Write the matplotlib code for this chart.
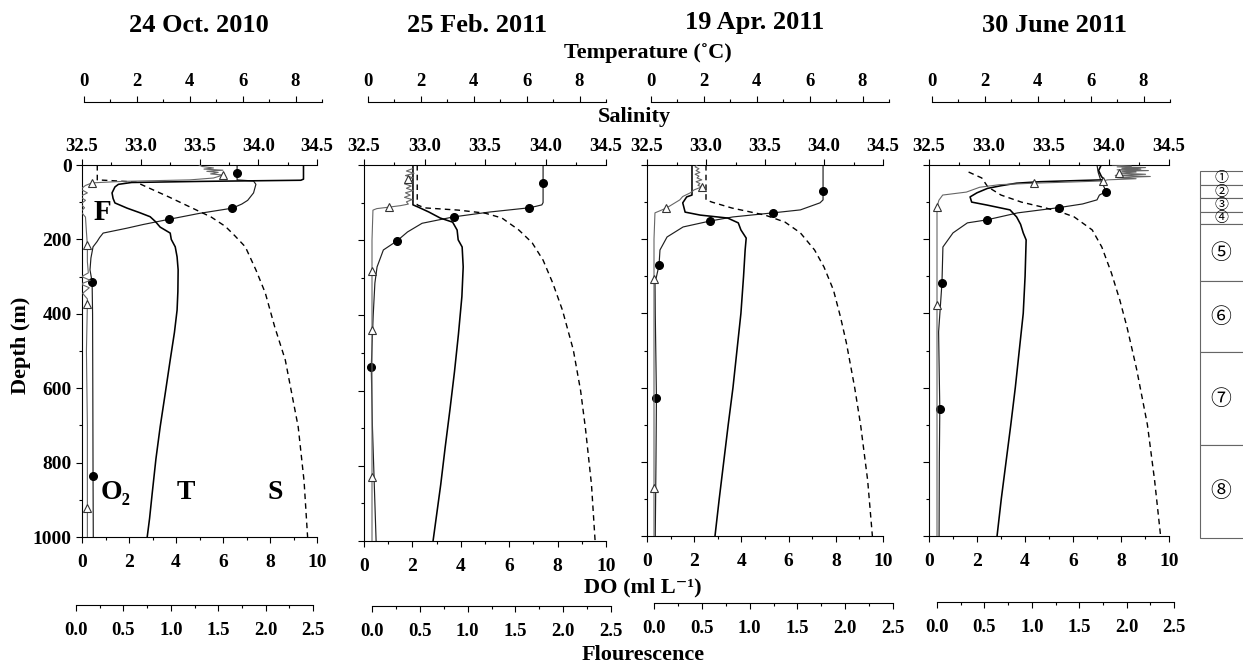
import matplotlib
matplotlib.use("Agg")
import matplotlib.pyplot as plt
from matplotlib.ticker import MultipleLocator, FormatStrFormatter

plt.rcParams['font.family'] = ['Liberation Serif', 'DejaVu Serif']
plt.rcParams['font.weight'] = 'bold'

# ---------------- data ----------------
titles = ['24 Oct. 2010', '25 Feb. 2011', '19 Apr. 2011', '30 June 2011']

# 24 Oct. 2010
oct10_t_z = [0, 38, 41, 44, 47, 52, 59, 75, 90, 102, 116, 128, 139, 152, 167, 183, 200, 220, 247, 282,
             340, 390, 450, 524, 610, 704, 790, 882, 950, 1000]
oct10_t = [8.3, 8.3, 8.2, 4.5, 1.8, 1.3, 1.17, 1.06, 1.1, 1.17, 1.63, 2.1, 2.5, 2.7, 2.88, 3.26, 3.3, 3.45,
           3.52, 3.56, 3.55, 3.52, 3.42, 3.26, 3.08, 2.88, 2.72, 2.58, 2.48, 2.39]
oct10_s_z = [0, 40, 42, 46, 59, 86, 116, 140, 165, 190, 220, 282, 344, 435, 524, 704, 850, 1000]
oct10_s = [32.63, 32.63, 32.75, 32.96, 33.05, 33.24, 33.44, 33.6, 33.72, 33.8, 33.89, 33.98, 34.06, 34.14,
           34.23, 34.34, 34.39, 34.42]
oct10_do_z = [0, 40, 43, 52, 75, 95, 105, 116, 130, 146, 160, 170, 183, 195, 206, 220, 250, 282, 314, 400,
              600, 836, 1000]
oct10_do = [6.6, 6.6, 7.3, 7.4, 7.3, 7.05, 6.8, 6.4, 5.0, 3.7, 2.6, 1.9, 0.9, 0.75, 0.64, 0.47, 0.38, 0.34,
            0.43, 0.45, 0.46, 0.47, 0.48]
oct10_do_pt_z = [21, 116, 146, 314, 836]
oct10_do_pt = [6.6, 6.4, 3.7, 0.43, 0.47]
oct10_f_z = [0, 4, 8, 11, 14, 17, 20, 24, 27, 31, 35, 40, 44, 48, 55, 65, 75, 85, 95, 105, 115, 125, 140,
             180, 215, 260, 290, 300, 310, 320, 330, 345, 360, 374, 500, 700, 922, 1000]
oct10_f = [1.3, 1.33, 1.45, 1.35, 1.55, 1.38, 1.5, 1.42, 1.55, 1.5, 1.45, 1.2, 0.5, 0.17, 0.1, 0.05, 0.12,
           0.04, 0.1, 0.05, 0.09, 0.05, 0.1, 0.11, 0.12, 0.12, 0.13, 0.06, 0.15, 0.05, 0.14, 0.07, 0.12,
           0.12, 0.11, 0.12, 0.12, 0.12]
oct10_f_pt_z = [27, 48, 215, 374, 922]
oct10_f_pt = [1.55, 0.17, 0.12, 0.12, 0.12]

# 25 Feb. 2011
feb11_t_z = [0, 106, 112, 125, 141, 152, 173, 199, 218, 271, 350, 450, 550, 650, 750, 850, 1000]
feb11_t = [1.7, 1.7, 1.9, 2.3, 2.73, 3.2, 3.37, 3.41, 3.56, 3.6, 3.55, 3.42, 3.27, 3.1, 2.92, 2.75, 2.46]
feb11_s_z = [0, 106, 114, 120, 128, 141, 173, 207, 253, 314, 386, 492, 600, 700, 850, 1000]
feb11_s = [32.94, 32.94, 33.0, 33.28, 33.5, 33.64, 33.78, 33.89, 33.98, 34.06, 34.14, 34.23, 34.29, 34.33,
           34.38, 34.41]
feb11_do_z = [0, 48, 100, 106, 110, 114, 125, 138, 155, 178, 202, 226, 271, 314, 400, 537, 700, 900, 1000]
feb11_do = [7.4, 7.4, 7.4, 7.35, 7.1, 6.8, 5.2, 3.7, 2.4, 1.8, 1.36, 0.8, 0.54, 0.45, 0.38, 0.3, 0.35,
            0.45, 0.5]
feb11_do_pt_z = [48, 114, 138, 202, 537]
feb11_do_pt = [7.4, 6.8, 3.7, 1.36, 0.3]
feb11_f_z = [10, 16, 22, 28, 34, 37, 44, 50, 56, 62, 68, 74, 80, 86, 92, 98, 104, 108, 112, 116, 120, 200,
             282, 439, 600, 830, 1000]
feb11_f = [0.42, 0.36, 0.44, 0.35, 0.43, 0.38, 0.42, 0.34, 0.41, 0.36, 0.43, 0.35, 0.4, 0.34, 0.42, 0.36,
           0.38, 0.3, 0.18, 0.05, 0.01, 0.0, 0.0, 0.0, 0.0, 0.0, 0.0]
feb11_f_pt_z = [37, 112, 282, 439, 830]
feb11_f_pt = [0.38, 0.18, 0.0, 0.0, 0.0]

# 19 Apr. 2011
apr11_t_z = [0, 81, 86, 102, 127, 135, 143, 156, 175, 197, 229, 300, 400, 500, 600, 700, 800, 900, 1000]
apr11_t = [1.55, 1.55, 1.35, 1.2, 1.29, 1.86, 2.9, 3.3, 3.4, 3.6, 3.56, 3.5, 3.4, 3.25, 3.1, 2.92, 2.75,
           2.58, 2.42]
apr11_s_z = [0, 94, 100, 116, 135, 154, 183, 229, 275, 337, 410, 480, 600, 700, 850, 1000]
apr11_s = [33.0, 33.0, 33.05, 33.22, 33.5, 33.67, 33.8, 33.92, 34.0, 34.08, 34.14, 34.19, 34.26, 34.31,
           34.37, 34.41]
apr11_do_z = [0, 70, 94, 102, 121, 129, 140, 151, 167, 194, 229, 270, 318, 400, 628, 800, 1000]
apr11_do = [7.46, 7.46, 7.46, 7.33, 6.5, 5.34, 3.64, 2.67, 1.53, 0.85, 0.55, 0.51, 0.34, 0.35, 0.4, 0.38,
            0.35]
apr11_do_pt_z = [70, 129, 151, 270, 628]
apr11_do_pt = [7.46, 5.34, 2.67, 0.51, 0.4]
apr11_f_z = [0, 5, 10, 15, 20, 25, 30, 35, 40, 45, 50, 55, 59, 67, 75, 85, 94, 105, 116, 129, 200, 307,
             600, 870, 1000]
apr11_f = [0.45, 0.43, 0.47, 0.44, 0.48, 0.43, 0.47, 0.45, 0.5, 0.44, 0.48, 0.46, 0.5, 0.42, 0.38, 0.3,
           0.27, 0.2, 0.13, 0.01, 0.0, 0.0, 0.0, 0.0, 0.0]
apr11_f_pt_z = [59, 116, 307, 870]
apr11_f_pt = [0.5, 0.13, 0.0, 0.0]

# 30 June 2011
jun11_t_z = [0, 15, 30, 40, 42, 45, 49, 56, 63, 75, 86, 100, 108, 121, 140, 160, 183, 202, 300, 400, 500,
             600, 700, 800, 900, 1000]
jun11_t = [6.4, 6.3, 6.4, 6.5, 5.5, 4.1, 3.2, 2.6, 2.1, 1.7, 1.44, 1.5, 2.08, 2.95, 3.2, 3.35, 3.45, 3.56,
           3.52, 3.45, 3.3, 3.15, 2.98, 2.8, 2.62, 2.46]
jun11_s_z = [19, 35, 59, 81, 100, 113, 127, 140, 175, 221, 291, 364, 437, 550, 700, 850, 1000]
jun11_s = [32.83, 32.94, 32.99, 33.1, 33.27, 33.44, 33.6, 33.71, 33.86, 33.94, 34.02, 34.09, 34.15, 34.23,
           34.32, 34.38, 34.43]
jun11_do_z = [0, 20, 40, 60, 72, 81, 94, 105, 115, 129, 148, 156, 183, 221, 318, 450, 658, 800, 1000]
jun11_do = [7.0, 7.05, 7.15, 7.3, 7.37, 7.1, 7.0, 6.4, 5.4, 3.7, 2.4, 1.6, 1.0, 0.58, 0.54, 0.4, 0.45,
            0.43, 0.42]
jun11_do_pt_z = [72, 115, 148, 318, 658]
jun11_do_pt = [7.37, 5.4, 2.4, 0.54, 0.45]
jun11_f_z = [0, 3, 5, 7, 9, 11, 13, 15, 17, 19, 22, 25, 28, 31, 34, 37, 40, 43, 46, 49, 53, 60, 73, 81,
             95, 113, 377, 600, 1000]
jun11_f = [1.85, 2.05, 1.9, 2.2, 1.95, 2.15, 1.9, 2.23, 1.95, 2.1, 1.92, 2.2, 1.88, 2.25, 1.9, 2.1, 1.8,
           1.75, 1.4, 1.02, 0.66, 0.45, 0.31, 0.06, 0.02, 0.0, 0.0, 0.0, 0.0]
jun11_f_pt_z = [22, 43, 49, 113, 377]
jun11_f_pt = [1.92, 1.75, 1.02, 0.0, 0.0]

# sampling layers shown at the right
layer_edges = [16, 54, 89, 127, 159, 313, 504, 755, 1005]
layer_names = ['①', '②', '③', '④', '⑤', '⑥', '⑦', '⑧']

panels = [
    dict(T=(oct10_t_z, oct10_t), S=(oct10_s_z, oct10_s), DO=(oct10_do_z, oct10_do),
         DOpt=(oct10_do_pt_z, oct10_do_pt), F=(oct10_f_z, oct10_f), Fpt=(oct10_f_pt_z, oct10_f_pt)),
    dict(T=(feb11_t_z, feb11_t), S=(feb11_s_z, feb11_s), DO=(feb11_do_z, feb11_do),
         DOpt=(feb11_do_pt_z, feb11_do_pt), F=(feb11_f_z, feb11_f), Fpt=(feb11_f_pt_z, feb11_f_pt)),
    dict(T=(apr11_t_z, apr11_t), S=(apr11_s_z, apr11_s), DO=(apr11_do_z, apr11_do),
         DOpt=(apr11_do_pt_z, apr11_do_pt), F=(apr11_f_z, apr11_f), Fpt=(apr11_f_pt_z, apr11_f_pt)),
    dict(T=(jun11_t_z, jun11_t), S=(jun11_s_z, jun11_s), DO=(jun11_do_z, jun11_do),
         DOpt=(jun11_do_pt_z, jun11_do_pt), F=(jun11_f_z, jun11_f), Fpt=(jun11_f_pt_z, jun11_f_pt)),
]

# ---------------- layout (pixels) ----------------
W, H = 1243, 664
main_px = [(82, 317, 537), (364, 606, 541), (647, 883, 536), (929, 1169, 536)]
temp_px = [(84, 322), (368, 606), (651, 889), (932, 1170)]
fluor_px = [(76, 313, 605), (372, 611, 606), (654, 893, 603), (937, 1174, 602)]
title_px = [(199, 25), (477, 25), (755, 22), (1055, 25)]
TOP = 165
TEMP_Y = 102


def box(l, r, t, b):
    return [l / W, 1 - b / H, (r - l) / W, (b - t) / H]


fig = plt.figure(figsize=(W / 100, H / 100), dpi=100)

for i, p in enumerate(panels):
    L, R, B = main_px[i]
    ax = fig.add_axes(box(L, R, TOP, B))
    ax.set_xlim(0, 10)
    ax.set_ylim(1000, 0)
    ax.spines[['top', 'right']].set_visible(False)
    ax.xaxis.set_major_locator(MultipleLocator(2))
    ax.xaxis.set_minor_locator(MultipleLocator(1))
    ax.yaxis.set_major_locator(MultipleLocator(200))
    ax.yaxis.set_minor_locator(MultipleLocator(100))
    ax.tick_params(which='major', direction='out', length=4.5, width=0.8, labelsize=14)
    ax.tick_params(which='minor', direction='out', length=2.2, width=0.8)
    ax.tick_params(axis='x', pad=8)
    ax.tick_params(axis='y', pad=3, labelleft=(i == 0))

    # salinity on the top spine
    axs = ax.twiny()
    axs.set_xlim(32.5, 34.5)
    axs.spines[['left', 'right', 'bottom']].set_visible(False)
    axs.xaxis.set_major_locator(MultipleLocator(0.5))
    axs.xaxis.set_minor_locator(MultipleLocator(0.25))
    axs.xaxis.set_major_formatter(FormatStrFormatter('%.1f'))
    axs.tick_params(which='major', direction='out', length=4.5, width=0.8, labelsize=13.5, pad=2.5)
    axs.tick_params(which='minor', direction='out', length=2.2, width=0.8)

    # temperature and fluorescence data share the pixel scale of their own floating axes
    t0, t9 = temp_px[i]
    kt = (t9 - t0) / 9
    axt = ax.twiny()
    axt.set_xlim((L - t0) / kt, (R - t0) / kt)
    axt.axis('off')

    f0, f25, fy = fluor_px[i]
    kf = (f25 - f0) / 2.5
    axf = ax.twiny()
    axf.set_xlim((L - f0) / kf, (R - f0) / kf)
    axf.axis('off')

    axs.plot(p['S'][1], p['S'][0], color='black', lw=1.0, ls=(0, (4, 3)))
    axt.plot(p['T'][1], p['T'][0], color='black', lw=1.15)
    axf.plot(p['F'][1], p['F'][0], color='0.4', lw=0.8)
    axf.plot(p['Fpt'][1], p['Fpt'][0], ls='none', marker='^', ms=6, mfc='white', mec='0.2', mew=0.8)
    ax.plot(p['DO'][1], p['DO'][0], color='0.12', lw=0.85)
    ax.plot(p['DOpt'][1], p['DOpt'][0], ls='none', marker='o', ms=5.5, color='black')

    # floating temperature scale
    axT = fig.add_axes(box(t0, t9, TEMP_Y, TEMP_Y + 1))
    axT.set_xlim(0, 9)
    axT.set_yticks([])
    axT.patch.set_visible(False)
    axT.spines[['left', 'right', 'bottom']].set_visible(False)
    axT.xaxis.tick_top()
    axT.xaxis.set_major_locator(MultipleLocator(2))
    axT.xaxis.set_minor_locator(MultipleLocator(1))
    axT.tick_params(which='major', direction='out', length=4.5, width=0.8, labelsize=13.5, pad=4)
    axT.tick_params(which='minor', direction='out', length=2.2, width=0.8)

    # floating fluorescence scale
    axF = fig.add_axes(box(f0, f25, fy - 1, fy))
    axF.set_xlim(0, 2.5)
    axF.set_yticks([])
    axF.patch.set_visible(False)
    axF.spines[['left', 'right', 'top']].set_visible(False)
    axF.xaxis.set_major_locator(MultipleLocator(0.5))
    axF.xaxis.set_minor_locator(MultipleLocator(0.25))
    axF.xaxis.set_major_formatter(FormatStrFormatter('%.1f'))
    axF.tick_params(which='major', direction='out', length=4.5, width=0.8, labelsize=13.5, pad=8)
    axF.tick_params(which='minor', direction='out', length=2.2, width=0.8)

    tx, ty = title_px[i]
    fig.text(tx / W, 1 - ty / H, titles[i], ha='center', va='center', fontsize=19, fontweight='bold')

    if i == 0:
        ax.text(0.85, 129, 'F', fontsize=21, ha='center', va='center')
        ax.text(1.45, 880, 'O₂', fontsize=20, ha='center', va='center')
        ax.text(4.4, 880, 'T', fontsize=20, ha='center', va='center')
        ax.text(8.2, 880, 'S', fontsize=20, ha='center', va='center')

# axis titles
fig.text(648 / W, 1 - 53 / H, 'Temperature (˚C)', ha='center', va='center', fontsize=16)
fig.text(634 / W, 1 - 117 / H, 'Salinity', ha='center', va='center', fontsize=16)
fig.text(643 / W, 1 - 587 / H, 'DO (ml L⁻¹)', ha='center', va='center', fontsize=16)
fig.text(643 / W, 1 - 655 / H, 'Flourescence', ha='center', va='center', fontsize=16)
fig.text(21 / W, 1 - 345 / H, 'Depth (m)', ha='center', va='center', rotation=90, fontsize=16)

# sampling layer boxes on the right
axl = fig.add_axes(box(1200, 1262, TOP, 536))
axl.set_xlim(0, 1)
axl.set_ylim(1000, 0)
axl.axis('off')
for k, name in enumerate(layer_names):
    top, bot = layer_edges[k], layer_edges[k + 1]
    axl.bar(0.5, bot - top, bottom=top, width=1, color='white', edgecolor='0.4', lw=0.8, clip_on=False)
    axl.text(0.34, (top + bot) / 2, name, ha='center', va='center',
             fontsize=10 if k < 4 else 15, fontweight='normal',
             family=['Noto Sans CJK JP', 'DejaVu Sans'], clip_on=False)

fig.savefig('out.png', dpi=100)
